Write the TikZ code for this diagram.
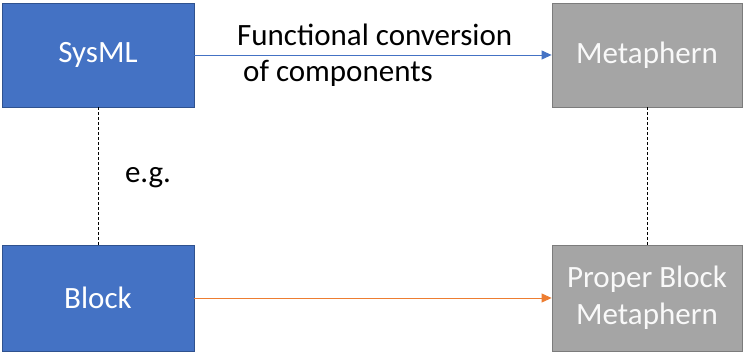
\documentclass[tikz,border=0pt]{standalone}
\usepackage{fontspec}
\setmainfont{Carlito}
\usetikzlibrary{arrows.meta}
\definecolor{oblue}{HTML}{4472C4}
\definecolor{obluedark}{HTML}{2F528F}
\definecolor{ogrey}{HTML}{A5A5A5}
\definecolor{ogreydark}{HTML}{7C7C7C}
\definecolor{oorange}{HTML}{ED7D31}
\tikzset{
  bigfont/.style={font=\fontsize{31}{37}\selectfont},
  bluebox/.style={draw=obluedark, fill=oblue, line width=0.8pt, minimum width=192pt, minimum height=104pt, inner sep=0pt, text=white, bigfont, align=center},
  greybox/.style={draw=ogreydark, fill=ogrey, line width=0.8pt, minimum width=190pt, minimum height=104pt, inner sep=0pt, text=white!95!gray, bigfont, align=center},
  conn/.style={line width=0.9pt, -{Triangle[length=10pt,width=9pt]}},
  dash line/.style={line width=0.8pt, black, dash pattern=on 3pt off 2pt}
}
\begin{document}
\begin{tikzpicture}[x=1pt,y=1pt]
\useasboundingbox (0,0) rectangle (743,352);
\node[bluebox] (sysml) at (98,297) {SysML};
\node[greybox] (meta) at (647,297) {Metaphern};
\node[bluebox, minimum height=106pt] (block) at (98,54) {Block};
\node[greybox, minimum height=106pt] (proper) at (647,54) {Proper Block\\Metaphern};
\draw[conn, draw=oblue, color=oblue] (sysml) -- (meta);
\draw[conn, draw=oorange, color=oorange] (block) -- (proper);
\draw[dash line] (sysml) -- (block);
\draw[dash line] (meta) -- (proper);
\node[bigfont, align=left, inner sep=0pt, anchor=base west] (lbl) at (237,270) {Functional conversion\\[-1pt]\hspace*{6pt}of components};
\node[bigfont, inner sep=0pt] (eg) at (148,174) {e.g.};
\end{tikzpicture}
\end{document}
